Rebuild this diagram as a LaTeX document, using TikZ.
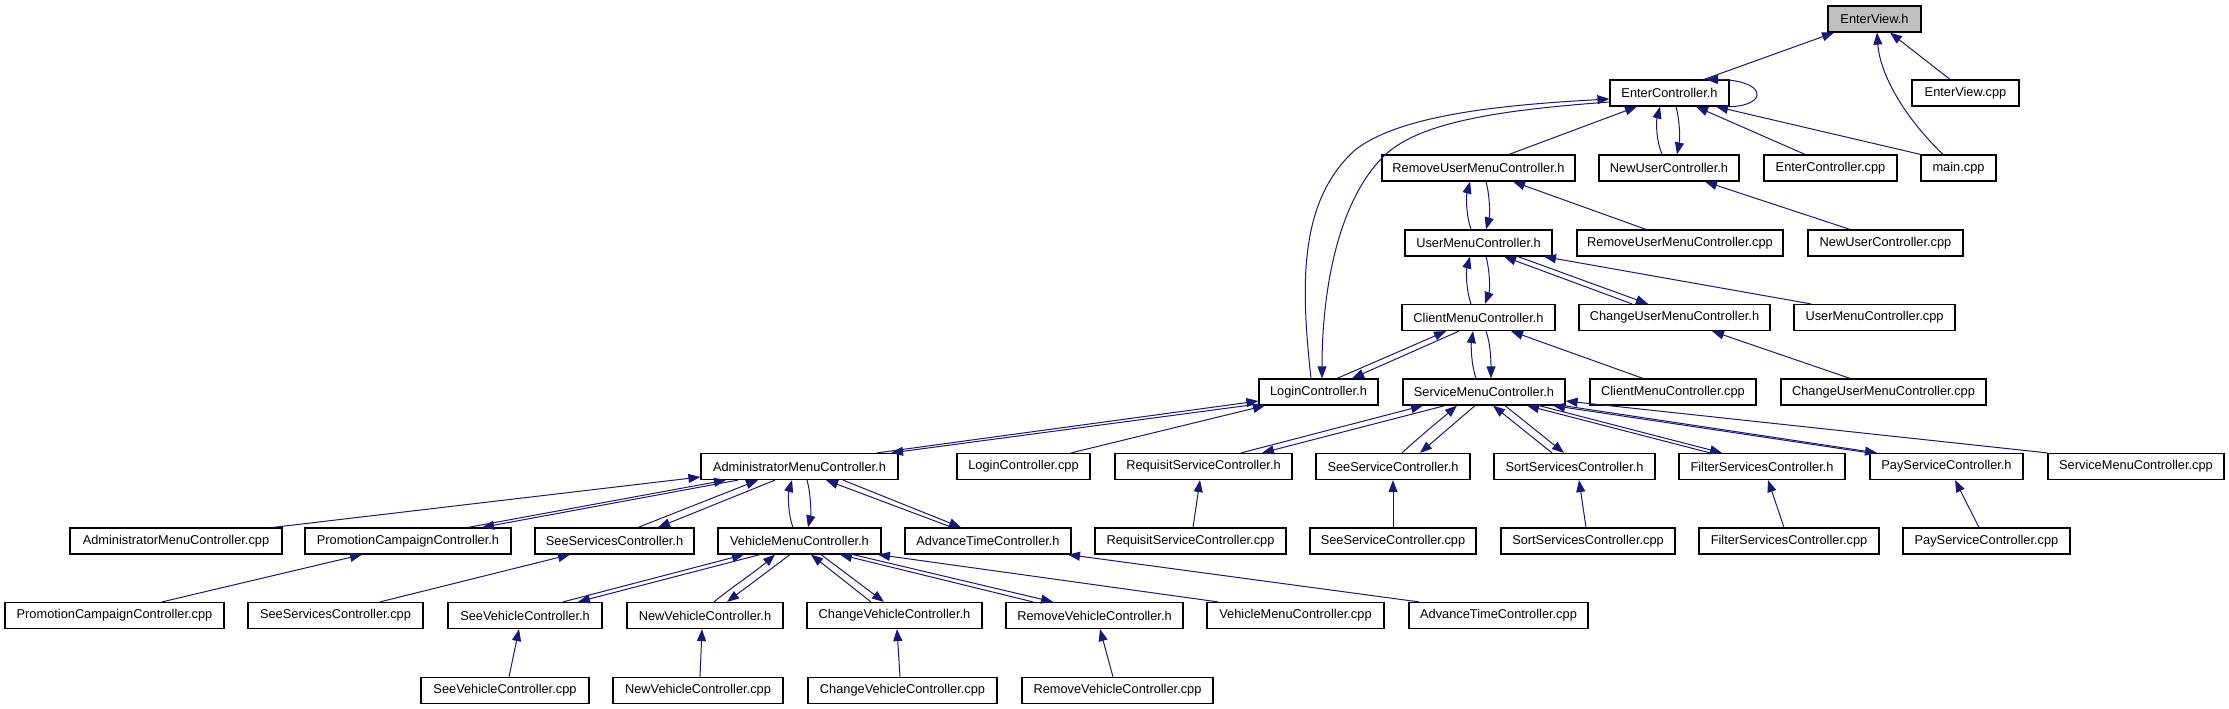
\documentclass[tikz,border=0pt]{standalone}
\usepackage{fontspec}
\setmainfont{Liberation Sans}
\usetikzlibrary{arrows.meta}
\definecolor{edgeblue}{HTML}{191970}
\tikzset{
  box/.style={draw=black, line width=1.2pt, fill=white, minimum height=26pt, inner sep=0pt,
    font=\fontsize{12.8pt}{15pt}\selectfont},
  dep/.style={draw=edgeblue, line width=1pt, -{Triangle[length=12pt,width=9pt]}},
}
\newcommand\nd[5]{\node[box, minimum width=#4pt] (#1) at (#2,#3) {#5};}
\begin{document}
\begin{tikzpicture}[x=1pt,y=-1pt]
\useasboundingbox (0,0) rectangle (2229,709);
\fill[white] (0,0) rectangle (2229,709);
% row 0
\node[box, minimum width=93pt, fill=gray!50] (EVh) at (1874.5,19) {EnterView.h};
% row 1
\nd{ECh}{1669.5}{93}{119}{EnterController.h}
\nd{EVc}{1965.5}{93}{107}{EnterView.cpp}
% row 2
\nd{RUMh}{1478.5}{168}{193}{RemoveUserMenuController.h}
\nd{NUh}{1669}{168}{140}{NewUserController.h}
\nd{ECc}{1830.5}{168}{133}{EnterController.cpp}
\nd{main}{1958.5}{168}{75}{main.cpp}
% row 3
\nd{UMh}{1478.5}{243}{147}{UserMenuController.h}
\nd{RUMc}{1680}{243}{206}{RemoveUserMenuController.cpp}
\nd{NUc}{1885.5}{243}{155}{NewUserController.cpp}
% row 4
\nd{CMh}{1478.5}{317.5}{153}{ClientMenuController.h}
\nd{CUMh}{1674.5}{317.5}{191}{ChangeUserMenuController.h}
\nd{UMc}{1874.5}{317.5}{161}{UserMenuController.cpp}
% row 5
\nd{Lh}{1318.5}{392}{119}{LoginController.h}
\nd{SMh}{1484}{392}{162}{ServiceMenuController.h}
\nd{CMc}{1673}{392}{166}{ClientMenuController.cpp}
\nd{CUMc}{1883.5}{392}{205}{ChangeUserMenuController.cpp}
% row 6
\nd{AMh}{799.5}{466.5}{197}{AdministratorMenuController.h}
\nd{Lc}{1023.5}{466.5}{133}{LoginController.cpp}
\nd{RSh}{1203.5}{466.5}{177}{RequisitServiceController.h}
\nd{SSh}{1393}{466.5}{154}{SeeServiceController.h}
\nd{SoSh}{1574.5}{466.5}{161}{SortServicesController.h}
\nd{FSh}{1762}{466.5}{166}{FilterServicesController.h}
\nd{PSh}{1946.5}{466.5}{153}{PayServiceController.h}
\nd{SMc}{2136}{466.5}{176}{ServiceMenuController.cpp}
% row 7
\nd{AMc}{176}{541}{212}{AdministratorMenuController.cpp}
\nd{PCh}{408}{541}{206}{PromotionCampaignController.h}
\nd{SSsh}{614.5}{541}{159}{SeeServicesController.h}
\nd{VMh}{799.5}{541}{163}{VehicleMenuController.h}
\nd{ATh}{988}{541}{166}{AdvanceTimeController.h}
\nd{RSc}{1190.5}{541}{191}{RequisitServiceController.cpp}
\nd{SSc}{1393}{541}{166}{SeeServiceController.cpp}
\nd{SoSc}{1588}{541}{174}{SortServicesController.cpp}
\nd{FSc}{1789}{541}{180}{FilterServicesController.cpp}
\nd{PSc}{1986.5}{541}{167}{PayServiceController.cpp}
% row 8
\nd{PCc}{114.5}{615.5}{219}{PromotionCampaignController.cpp}
\nd{SSsc}{335.5}{615.5}{175}{SeeServicesController.cpp}
\nd{SVh}{525}{615.5}{154}{SeeVehicleController.h}
\nd{NVh}{705}{615.5}{156}{NewVehicleController.h}
\nd{CVh}{894.5}{615.5}{175}{ChangeVehicleController.h}
\nd{RVh}{1094.5}{615.5}{177}{RemoveVehicleController.h}
\nd{VMc}{1295.5}{615.5}{177}{VehicleMenuController.cpp}
\nd{ATc}{1498.5}{615.5}{179}{AdvanceTimeController.cpp}
% row 9
\nd{SVc}{505}{690.5}{168}{SeeVehicleController.cpp}
\nd{NVc}{698}{690.5}{170}{NewVehicleController.cpp}
\nd{CVc}{902.5}{690.5}{189}{ChangeVehicleController.cpp}
\nd{RVc}{1117.5}{690.5}{191}{RemoveVehicleController.cpp}

% edges
\draw[dep] (ECh.north -| 1704,0) -- (EVh.south -| 1834,0);
\draw[dep] (EVc.north -| 1950,0) -- (EVh.south -| 1890,0);
\draw[dep] (main.north -| 1943,0) .. controls (1905,118) and (1880,75) .. (EVh.south -| 1877,0);
\draw[dep] (ECh.south east) .. controls (1768,106) and (1768,80) .. (ECh.north -| 1706,0);
\draw[dep] (RUMh.north -| 1509,0) -- (ECh.south -| 1637,0);
\draw[dep] (NUh.north -| 1662,0) .. controls (1656,140) and (1656,122) .. (ECh.south -| 1660,0);
\draw[dep] (ECh.south -| 1676,0) .. controls (1680,122) and (1680,140) .. (NUh.north -| 1677,0);
\draw[dep] (ECc.north -| 1805,0) -- (ECh.south -| 1696,0);
\draw[dep] (main.north west) -- (ECh.south -| 1716,0);
\draw[dep] (Lh.north -| 1311,0) .. controls (1300,280) and (1300,200) .. (1355,150)
  .. controls (1400,115) and (1500,105) .. (ECh.west |- 0,99);
\draw[dep] (ECh.west |- 0,102) .. controls (1500,110) and (1420,122) .. (1385,155)
  .. controls (1338,200) and (1322,290) .. (Lh.north -| 1322,0);
\draw[dep] (UMh.north -| 1471,0) .. controls (1466,215) and (1466,197) .. (RUMh.south -| 1470,0);
\draw[dep] (RUMh.south -| 1486,0) .. controls (1490,197) and (1490,215) .. (UMh.north -| 1486,0);
\draw[dep] (RUMc.north -| 1646,0) -- (RUMh.south -| 1513,0);
\draw[dep] (NUc.north -| 1850,0) -- (NUh.south -| 1705,0);
\draw[dep] (CMh.north -| 1471,0) .. controls (1466,290) and (1466,271) .. (UMh.south -| 1470,0);
\draw[dep] (UMh.south -| 1486,0) .. controls (1490,271) and (1490,290) .. (CMh.north -| 1485,0);
\draw[dep] (CUMh.north -| 1632,0) -- (UMh.south -| 1504,0);
\draw[dep] (UMh.south -| 1518,0) -- (CUMh.north -| 1648,0);
\draw[dep] (UMc.north -| 1811,0) -- (UMh.south -| 1544,0);
\draw[dep] (Lh.north -| 1337,0) -- (CMh.south -| 1446,0);
\draw[dep] (CMh.south -| 1459,0) -- (Lh.north -| 1352,0);
\draw[dep] (SMh.north -| 1476,0) .. controls (1471,364) and (1471,345) .. (CMh.south -| 1473,0);
\draw[dep] (CMh.south -| 1486,0) .. controls (1491,345) and (1491,364) .. (SMh.north -| 1491,0);
\draw[dep] (CMc.north -| 1643,0) -- (CMh.south -| 1511,0);
\draw[dep] (CUMc.north -| 1850,0) -- (CUMh.south -| 1712,0);
\draw[dep] (AMh.north -| 877,0) -- (Lh.west |- 0,401);
\draw[dep] (Lh.west |- 0,404) -- (AMh.north -| 891,0);
\draw[dep] (Lc.north -| 1071,0) -- (Lh.south -| 1265,0);
\draw[dep] (AMc.north -| 273,0) -- (AMh.west |- 0,477);
\draw[dep] (PCh.north -| 468,0) -- (AMh.south -| 726,0);
\draw[dep] (AMh.south -| 738,0) -- (PCh.north -| 482,0);
\draw[dep] (SSsh.north -| 638,0) -- (AMh.south -| 758,0);
\draw[dep] (AMh.south -| 775,0) -- (SSsh.north -| 658,0);
\draw[dep] (VMh.north -| 793,0) .. controls (788,515) and (788,494) .. (AMh.south -| 792,0);
\draw[dep] (AMh.south -| 807,0) .. controls (811,494) and (811,515) .. (VMh.north -| 808,0);
\draw[dep] (ATh.north -| 952,0) -- (AMh.south -| 826,0);
\draw[dep] (AMh.south -| 843,0) -- (ATh.north -| 961,0);
\draw[dep] (PCc.north -| 162,0) -- (PCh.south -| 362,0);
\draw[dep] (SSsc.north -| 380,0) -- (SSsh.south -| 570,0);
\draw[dep] (SVh.north -| 563,0) -- (VMh.south -| 744,0);
\draw[dep] (VMh.south -| 760,0) -- (SVh.north -| 578,0);
\draw[dep] (NVh.north -| 714,0) .. controls (728,590) and (755,572) .. (VMh.south -| 775,0);
\draw[dep] (VMh.south -| 790,0) -- (NVh.north -| 727,0);
\draw[dep] (CVh.north -| 871,0) -- (VMh.south -| 811,0);
\draw[dep] (VMh.south -| 821,0) -- (CVh.north -| 884,0);
\draw[dep] (RVh.north -| 1033,0) -- (VMh.south -| 840,0);
\draw[dep] (VMh.south -| 853,0) -- (RVh.north -| 1053,0);
\draw[dep] (VMc.north -| 1218,0) -- (VMh.south -| 878,0);
\draw[dep] (ATc.north -| 1419,0) -- (ATh.south -| 1068,0);
\draw[dep] (RSh.north -| 1241,0) -- (SMh.south -| 1423,0);
\draw[dep] (SMh.south -| 1445,0) -- (RSh.north -| 1262,0);
\draw[dep] (SSh.north -| 1402,0) .. controls (1418,438) and (1440,420) .. (SMh.south -| 1457,0);
\draw[dep] (SMh.south -| 1475,0) -- (SSh.north -| 1420,0);
\draw[dep] (SoSh.north -| 1552,0) -- (SMh.south -| 1493,0);
\draw[dep] (SMh.south -| 1505,0) -- (SoSh.north -| 1564,0);
\draw[dep] (FSh.north -| 1710,0) -- (SMh.south -| 1527,0);
\draw[dep] (SMh.south -| 1539,0) -- (FSh.north -| 1722,0);
\draw[dep] (PSh.north west) -- (SMh.south -| 1553,0);
\draw[dep] (SMh.south -| 1563,0) -- (PSh.north -| 1877,0);
\draw[dep] (SMc.north west) -- (SMh.east |- 0,401);
\draw[dep] (RSc.north -| 1193,0) -- (RSh.south -| 1200,0);
\draw[dep] (SSc.north) -- (SSh.south);
\draw[dep] (SoSc.north -| 1586,0) -- (SoSh.south -| 1579,0);
\draw[dep] (FSc.north -| 1784,0) -- (FSh.south -| 1768,0);
\draw[dep] (PSc.north -| 1979,0) -- (PSh.south -| 1955,0);
\draw[dep] (SVc.north -| 509,0) -- (SVh.south -| 519,0);
\draw[dep] (NVc.north -| 700,0) -- (NVh.south -| 702,0);
\draw[dep] (CVc.north -| 900,0) -- (CVh.south -| 897,0);
\draw[dep] (RVc.north -| 1113,0) -- (RVh.south -| 1100,0);
\end{tikzpicture}
\end{document}
